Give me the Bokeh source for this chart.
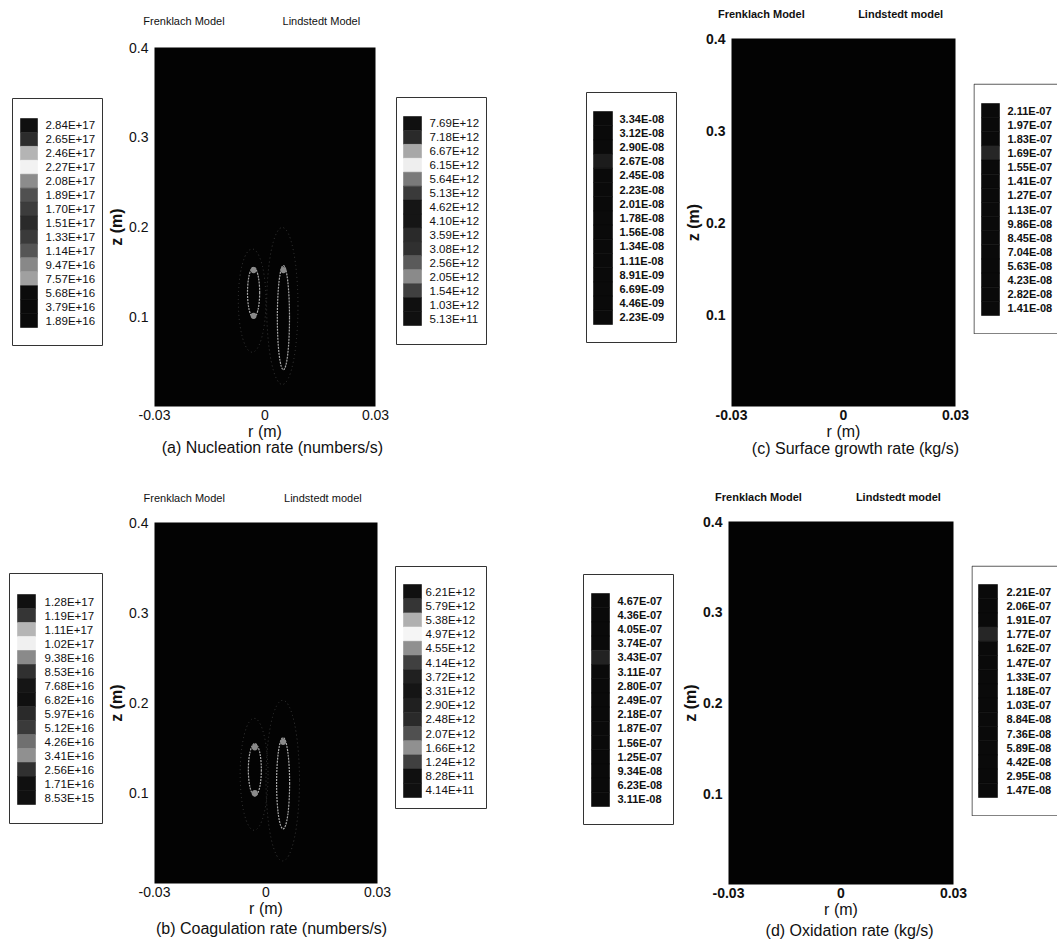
import numpy as np
from bokeh.plotting import figure
from bokeh.models import Range1d, FixedTicker, Spacer, LinearAxis
from bokeh.layouts import row, column
from bokeh.core.properties import value
from bokeh.embed import file_html
from bokeh.resources import INLINE

FONT = "Liberation Sans"

# ---------------- data ----------------
R_RANGE = (-0.03, 0.03)
Z_RANGE = (0.0, 0.4)
R_TICKS = [-0.03, 0, 0.03]
R_TICK_LABELS = ["-0.03", "0", "0.03"]
Z_TICKS = [0.1, 0.2, 0.3, 0.4]
Z_TICK_LABELS = ["0.1", "0.2", "0.3", "0.4"]

MODEL_LEFT = "Frenklach Model"
MODEL_RIGHT_A = "Lindstedt Model"
MODEL_RIGHT = "Lindstedt model"

CAPTION_A = "(a) Nucleation rate (numbers/s)"
CAPTION_B = "(b) Coagulation rate (numbers/s)"
CAPTION_C = "(c) Surface growth rate (kg/s)"
CAPTION_D = "(d) Oxidation rate (kg/s)"

A_FRENKLACH = ["2.84E+17", "2.65E+17", "2.46E+17", "2.27E+17", "2.08E+17", "1.89E+17", "1.70E+17",
               "1.51E+17", "1.33E+17", "1.14E+17", "9.47E+16", "7.57E+16", "5.68E+16", "3.79E+16", "1.89E+16"]
A_LINDSTEDT = ["7.69E+12", "7.18E+12", "6.67E+12", "6.15E+12", "5.64E+12", "5.13E+12", "4.62E+12",
               "4.10E+12", "3.59E+12", "3.08E+12", "2.56E+12", "2.05E+12", "1.54E+12", "1.03E+12", "5.13E+11"]
B_FRENKLACH = ["1.28E+17", "1.19E+17", "1.11E+17", "1.02E+17", "9.38E+16", "8.53E+16", "7.68E+16",
               "6.82E+16", "5.97E+16", "5.12E+16", "4.26E+16", "3.41E+16", "2.56E+16", "1.71E+16", "8.53E+15"]
B_LINDSTEDT = ["6.21E+12", "5.79E+12", "5.38E+12", "4.97E+12", "4.55E+12", "4.14E+12", "3.72E+12",
               "3.31E+12", "2.90E+12", "2.48E+12", "2.07E+12", "1.66E+12", "1.24E+12", "8.28E+11", "4.14E+11"]
C_FRENKLACH = ["3.34E-08", "3.12E-08", "2.90E-08", "2.67E-08", "2.45E-08", "2.23E-08", "2.01E-08",
               "1.78E-08", "1.56E-08", "1.34E-08", "1.11E-08", "8.91E-09", "6.69E-09", "4.46E-09", "2.23E-09"]
C_LINDSTEDT = ["2.11E-07", "1.97E-07", "1.83E-07", "1.69E-07", "1.55E-07", "1.41E-07", "1.27E-07",
               "1.13E-07", "9.86E-08", "8.45E-08", "7.04E-08", "5.63E-08", "4.23E-08", "2.82E-08", "1.41E-08"]
D_FRENKLACH = ["4.67E-07", "4.36E-07", "4.05E-07", "3.74E-07", "3.43E-07", "3.11E-07", "2.80E-07",
               "2.49E-07", "2.18E-07", "1.87E-07", "1.56E-07", "1.25E-07", "9.34E-08", "6.23E-08", "3.11E-08"]
D_LINDSTEDT = ["2.21E-07", "2.06E-07", "1.91E-07", "1.77E-07", "1.62E-07", "1.47E-07", "1.33E-07",
               "1.18E-07", "1.03E-07", "8.84E-08", "7.36E-08", "5.89E-08", "4.42E-08", "2.95E-08", "1.47E-08"]

# contour-band grays (top level first)
GRAY_A_L = ["#101010", "#2c2c2c", "#b4b4b4", "#f2f2f2", "#8c8c8c", "#505050", "#3c3c3c", "#2a2a2a",
            "#3a3a3a", "#555555", "#888888", "#a0a0a0", "#0c0c0c", "#0a0a0a", "#0a0a0a"]
GRAY_A_R = ["#101010", "#2a2a2a", "#a8a8a8", "#eeeeee", "#7a7a7a", "#3a3a3a", "#151515", "#151515",
            "#2a2a2a", "#303030", "#5a5a5a", "#8a8a8a", "#404040", "#101010", "#101010"]
GRAY_B_L = ["#101010", "#353535", "#b5b5b5", "#f0f0f0", "#8a8a8a", "#303030", "#151515", "#101010",
            "#2a2a2a", "#3a3a3a", "#707070", "#909090", "#303030", "#101010", "#101010"]
GRAY_B_R = ["#101010", "#353535", "#b0b0b0", "#f5f5f5", "#909090", "#404040", "#202020", "#151515",
            "#202020", "#2a2a2a", "#505050", "#909090", "#404040", "#101010", "#101010"]
GRAY_C_L = ["#0a0a0a", "#0a0a0a", "#0a0a0a", "#1c1c1c", "#0a0a0a", "#0a0a0a", "#0a0a0a", "#0a0a0a",
            "#0a0a0a", "#0a0a0a", "#0a0a0a", "#0a0a0a", "#0a0a0a", "#0a0a0a", "#0a0a0a"]
GRAY_C_R = ["#0a0a0a", "#0a0a0a", "#0a0a0a", "#262626", "#0a0a0a", "#0a0a0a", "#0a0a0a", "#0a0a0a",
            "#0a0a0a", "#0a0a0a", "#0a0a0a", "#0a0a0a", "#0a0a0a", "#0a0a0a", "#0a0a0a"]
GRAY_D_L = ["#0a0a0a", "#0a0a0a", "#0a0a0a", "#0a0a0a", "#222222", "#0a0a0a", "#0a0a0a", "#0a0a0a",
            "#0a0a0a", "#0a0a0a", "#0a0a0a", "#0a0a0a", "#0a0a0a", "#0a0a0a", "#0a0a0a"]
GRAY_D_R = ["#0a0a0a", "#0a0a0a", "#0a0a0a", "#262626", "#0a0a0a", "#0a0a0a", "#0a0a0a", "#0a0a0a",
            "#0a0a0a", "#0a0a0a", "#0a0a0a", "#0a0a0a", "#0a0a0a", "#0a0a0a", "#0a0a0a"]

# faint contour rings seen inside the flame (a) and (b): centre r, centre z, width r, height z
A_INNER_R = [-0.0031, 0.0050]
A_INNER_Z = [0.127, 0.099]
A_INNER_W = [0.0033, 0.0033]
A_INNER_H = [0.056, 0.116]
A_OUTER_R = [-0.0035, 0.0047]
A_OUTER_Z = [0.118, 0.112]
A_OUTER_W = [0.0075, 0.0085]
A_OUTER_H = [0.115, 0.175]

B_INNER_R = [-0.0030, 0.0046]
B_INNER_Z = [0.126, 0.111]
B_INNER_W = [0.0035, 0.0035]
B_INNER_H = [0.058, 0.101]
B_OUTER_R = [-0.0032, 0.0045]
B_OUTER_Z = [0.121, 0.114]
B_OUTER_W = [0.0075, 0.0090]
B_OUTER_H = [0.124, 0.178]

SPOT_A_R = [-0.0031, -0.0031, 0.0050]
SPOT_A_Z = [0.152, 0.101, 0.152]
SPOT_B_R = [-0.0030, -0.0030, 0.0046]
SPOT_B_Z = [0.151, 0.100, 0.157]

# header positions (r) of the two model names
HEADER_R = [-0.022, 0.0153]


# ---------------- builders ----------------
def no_align(p):
    try:
        p.frame_align = False
    except Exception:
        pass


def legend_fig(labels, grays, w, h, bar_x0, bar_x1, bar_top, bar_bot, label_x,
               font_size, bold, open_right=False):
    n = len(labels)
    band = (bar_bot - bar_top) / n
    y0 = -(h - bar_bot) / band
    y1 = n + bar_top / band
    p = figure(width=w, height=h, x_range=Range1d(0, w), y_range=Range1d(y0, y1),
               output_backend="svg", toolbar_location=None, x_axis_location=None,
               y_axis_location=None, min_border=0,
               outline_line_color=None if open_right else "#333333",
               background_fill_color="white", border_fill_color="white")
    no_align(p)
    p.grid.visible = False
    idx = np.arange(n)[::-1]
    p.quad(left=bar_x0, right=bar_x1, bottom=idx, top=idx + 1, fill_color=grays,
           line_color=grays, line_width=0.6)
    p.text(x=label_x, y=idx + 0.5, text=labels, text_font=value(FONT), text_font_size=font_size,
           text_font_style="bold" if bold else "normal", text_baseline="middle", text_align="left",
           text_color="#111111")
    if open_right:
        px = (y1 - y0) / h
        p.quad(left=0.5, right=w + 10, bottom=y0 + 0.6 * px, top=y1 - 0.6 * px,
               fill_color=None, line_color="#333333", line_width=1)
    return p


def style_axis(ax, size, style):
    ax.axis_line_color = None
    ax.major_tick_line_color = None
    ax.minor_tick_line_color = None
    ax.major_tick_in = 0
    ax.major_tick_out = 0
    ax.minor_tick_in = 0
    ax.minor_tick_out = 0
    ax.major_label_text_font = FONT
    ax.major_label_text_font_size = size
    ax.major_label_text_font_style = style
    ax.major_label_text_color = "#111111"
    ax.axis_label_text_font = FONT
    ax.axis_label_text_font_size = "16px"
    ax.axis_label_text_color = "#111111"


def main_fig(frame_w, frame_h, left, right, top, bottom, bold, right_name, caption,
             caption_r, caption_standoff, header_standoff, inner=None, outer=None, spots=None):
    p = figure(width=left + frame_w + right, height=top + frame_h + bottom,
               x_range=Range1d(*R_RANGE), y_range=Range1d(*Z_RANGE),
               output_backend="svg", toolbar_location=None,
               min_border_left=left, min_border_right=right, min_border_top=top,
               min_border_bottom=bottom, background_fill_color="#030303",
               border_fill_color="white", outline_line_color=None)
    no_align(p)
    p.grid.visible = False
    style = "bold" if bold else "normal"
    style_axis(p.xaxis[0], "14px", style)
    style_axis(p.yaxis[0], "14px", style)
    p.xaxis.ticker = FixedTicker(ticks=R_TICKS)
    p.xaxis.major_label_overrides = dict(zip(R_TICKS, R_TICK_LABELS))
    p.yaxis.ticker = FixedTicker(ticks=Z_TICKS)
    p.yaxis.major_label_overrides = dict(zip(Z_TICKS, Z_TICK_LABELS))
    p.xaxis.axis_label = "r (m)"
    p.xaxis.axis_label_text_font_style = "normal"
    p.xaxis.major_label_standoff = 3
    p.xaxis.axis_label_standoff = 0
    p.yaxis.axis_label = "z (m)"
    p.yaxis.axis_label_text_font_style = "bold"
    p.yaxis.major_label_standoff = 6
    p.yaxis.axis_label_standoff = 1

    # model names above the map
    head = LinearAxis(ticker=FixedTicker(ticks=HEADER_R),
                      major_label_overrides=dict(zip(HEADER_R, [MODEL_LEFT, right_name])))
    style_axis(head, "11px", style)
    head.major_label_standoff = header_standoff
    p.add_layout(head, "above")

    # caption below the r axis
    cap = LinearAxis(ticker=FixedTicker(ticks=[caption_r]),
                     major_label_overrides={caption_r: caption})
    style_axis(cap, "16px", "normal")
    cap.major_label_standoff = caption_standoff
    p.add_layout(cap, "below")

    if outer is not None:
        p.ellipse(x=outer[0], y=outer[1], width=outer[2], height=outer[3], fill_color=None,
                  line_color="#3c3c3c", line_width=1, line_dash="1 3")
    if inner is not None:
        p.ellipse(x=inner[0], y=inner[1], width=inner[2], height=inner[3], fill_color=None,
                  line_color="#a8a8a8", line_width=1.2, line_dash="2 1")
    if spots is not None:
        p.ellipse(x=spots[0], y=spots[1], width=0.0016, height=0.007, fill_color="#8a8a8a",
                  line_color=None)
    return p


def stack(dy, fig, w):
    return column(Spacer(width=w, height=dy), fig)


# ---- panel (a) ----
legA_L = legend_fig(A_FRENKLACH, GRAY_A_L, 91, 248, 8, 25, 20, 229, 33, "11.5px", False)
mainA = main_fig(221, 359, 51, 21, 47, 64, False, MODEL_RIGHT_A, CAPTION_A, 0.0020, -4, 21,
                 inner=(A_INNER_R, A_INNER_Z, A_INNER_W, A_INNER_H),
                 outer=(A_OUTER_R, A_OUTER_Z, A_OUTER_W, A_OUTER_H),
                 spots=(SPOT_A_R, SPOT_A_Z))
legA_R = legend_fig(A_LINDSTEDT, GRAY_A_R, 91, 248, 7, 25, 19, 228, 33, "11.5px", False)

# ---- panel (c) ----
legC_L = legend_fig(C_FRENKLACH, GRAY_C_L, 91, 251, 7, 26, 19, 232, 33, "11px", True)
mainC = main_fig(224, 368, 54, 18, 38, 64, True, MODEL_RIGHT, CAPTION_C, 0.0032, -3, 19)
legC_R = legend_fig(C_LINDSTEDT, GRAY_C_R, 84, 251, 8, 26, 20, 232, 34, "11px", True, open_right=True)

# ---- panel (b) ----
legB_L = legend_fig(B_FRENKLACH, GRAY_B_L, 94, 251, 8, 26, 21, 231, 35, "11.5px", False)
mainB = main_fig(223, 361, 51, 18, 52, 58, False, MODEL_RIGHT, CAPTION_B, 0.0015, 0, 19,
                 inner=(B_INNER_R, B_INNER_Z, B_INNER_W, B_INNER_H),
                 outer=(B_OUTER_R, B_OUTER_Z, B_OUTER_W, B_OUTER_H),
                 spots=(SPOT_B_R, SPOT_B_Z))
legB_R = legend_fig(B_LINDSTEDT, GRAY_B_R, 92, 243, 8, 26, 18, 231, 30, "11.5px", False)

# ---- panel (d) ----
legD_L = legend_fig(D_FRENKLACH, GRAY_D_L, 91, 251, 8, 26, 19, 232, 34, "11px", True)
mainD = main_fig(225, 365, 54, 18, 51, 55, True, MODEL_RIGHT, CAPTION_D, 0.0023, 1, 19)
legD_R = legend_fig(D_LINDSTEDT, GRAY_D_R, 86, 251, 7, 26, 19, 232, 35, "11px", True, open_right=True)

top_row = row(
    Spacer(width=12, height=470), stack(98, legA_L, 91), mainA, stack(97, legA_R, 91),
    Spacer(width=99, height=470), stack(92, legC_L, 91), mainC, stack(83, legC_R, 84),
)
bottom_row = row(
    Spacer(width=9, height=471), stack(103, legB_L, 94), mainB, stack(96, legB_R, 92),
    Spacer(width=96, height=471), stack(104, legD_L, 91), mainD, stack(95, legD_R, 86),
)
layout = column(top_row, bottom_row)

with open("out.html", "w") as f:
    f.write(file_html(layout, INLINE))
